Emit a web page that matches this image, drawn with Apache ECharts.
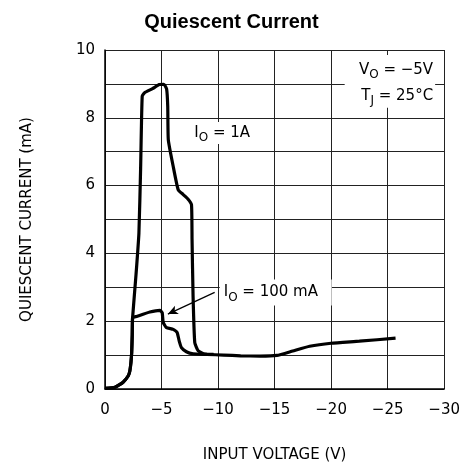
<!DOCTYPE html>
<html><head><meta charset="utf-8">
<script src="https://cdn.jsdelivr.net/npm/echarts@6/dist/echarts.min.js"></script>
<style>html,body{margin:0;padding:0;background:#fff}#c{width:463px;height:469px}</style>
</head><body><div id="c"></div>
<script>
const chartTitle = 'Quiescent Current';
const xAxisName = 'INPUT VOLTAGE (V)';
const yAxisName = 'QUIESCENT CURRENT (mA)';
const xMin = -30, xMax = 0, xStep = 5;
const yMin = 0, yMax = 10, yStep = 1;

// I_O = 1A curve  [input voltage (V), quiescent current (mA)]
const curve1A = [
  [0,0.02],[-0.88,0.05],[-1.6,0.2],[-2.06,0.39],[-2.2,0.54],[-2.3,0.8],[-2.36,1.08],[-2.41,1.6],[-2.44,2.1],
  [-2.75,3.4],[-3.0,4.6],[-3.15,6.5],[-3.29,8.63],[-3.5,8.74],[-4.2,8.86],[-4.8,8.98],[-5.2,8.99],[-5.45,8.85],
  [-5.55,8.33],[-5.6,7.35],[-6.03,6.57],[-6.47,5.88],[-6.9,5.74],[-7.35,5.6],[-7.65,5.44],[-7.7,4.41],
  [-7.79,2.74],[-7.94,1.37],[-8.24,1.13],[-8.82,1.03],[-9.6,1.02]
];
// I_O = 100 mA curve
const curve100mA = [
  [0,0.02],[-0.88,0.05],[-1.6,0.2],[-2.06,0.39],[-2.2,0.54],[-2.3,0.8],[-2.36,1.08],[-2.41,1.6],[-2.44,2.1],
  [-2.79,2.14],[-3.97,2.27],[-4.85,2.32],[-5.06,2.25],[-5.15,1.96],[-5.44,1.81],[-6.03,1.76],[-6.38,1.67],
  [-6.56,1.42],[-6.76,1.22],[-7.2,1.1],[-7.79,1.04],[-9.0,1.02],[-10.5,1.0],[-12.0,0.98],[-13.7,0.97],
  [-15.2,0.99],[-16.6,1.12],[-18.1,1.26],[-20.0,1.35],[-22.5,1.41],[-25.7,1.5]
];
// annotation anchors (data coords)
const label1A = {x:-7.9, y:7.55, text:'1A'};
const label100 = {x:-10.5, y:2.85, text:'100 mA'};
const arrowFrom = [-9.7, 2.85], arrowTo = [-5.56, 2.21];
const condBox = {x0:-21.2, x1:-29.2, y0:9.85, y1:8.3};

const chart = echarts.init(document.getElementById('c'), null, {renderer:'canvas'});
const F = 'DejaVu Sans';
const gridColor = '#222';
chart.setOption({
  animation:false,
  backgroundColor:'#fff',
  title:{text:chartTitle,left:'center',top:7,textStyle:{fontFamily:'Liberation Sans',fontWeight:'bold',fontSize:20,color:'#000'}},
  grid:{left:105,right:18,top:50,bottom:80},
  xAxis:{type:'value',min:xMin,max:xMax,interval:xStep,inverse:true,
    name:xAxisName,nameLocation:'middle',nameGap:59,
    nameTextStyle:{fontFamily:F,fontSize:15,color:'#000'},
    axisLine:{show:true,lineStyle:{color:'#000',width:1.5}},
    axisTick:{show:false},
    axisLabel:{margin:14,fontFamily:F,fontSize:15,color:'#000',
      formatter:v=> v===0?'0':'\u2212'+Math.abs(v)},
    splitLine:{show:true,lineStyle:{color:gridColor,width:1}}},
  yAxis:{type:'value',min:yMin,max:yMax,interval:yStep,
    name:yAxisName,nameLocation:'middle',nameGap:70,nameRotate:90,
    nameTextStyle:{fontFamily:F,fontSize:15,color:'#000'},
    axisLine:{show:true,lineStyle:{color:'#000',width:1.5}},
    axisTick:{show:false},
    axisLabel:{margin:10,fontFamily:F,fontSize:15,color:'#000',
      formatter:v=> (v%2===0)?String(v):''},
    splitLine:{show:true,lineStyle:{color:gridColor,width:1}}},
  series:[
    {name:'I_O = 1A',type:'line',data:curve1A,showSymbol:false,smooth:0.15,
     lineStyle:{color:'#000',width:3.2},z:5},
    {name:'I_O = 100 mA',type:'line',data:curve100mA,showSymbol:false,smooth:0.15,
     lineStyle:{color:'#000',width:3.2},z:5,
     markLine:{silent:true,symbol:['none','arrow'],symbolSize:[7,10],
       lineStyle:{color:'#000',width:1.2,type:'solid'},label:{show:false},
       data:[[{coord:arrowFrom},{coord:arrowTo}]]}}
  ]
});

function px(p){return chart.convertToPixel({gridIndex:0},p);}
const rich = {
  a:{fontFamily:F,fontSize:15,color:'#000'},
  s:{fontFamily:F,fontSize:12,color:'#000',padding:[10,0,0,0]}
};
const b0 = px([condBox.x0,condBox.y0]), b1 = px([condBox.x1,condBox.y1]);
const l1 = px([label1A.x,label1A.y]);
const l2 = px([label100.x,label100.y]);
chart.setOption({graphic:[
  {type:'rect',z:1,shape:{x:b0[0],y:b0[1],width:b1[0]-b0[0],height:b1[1]-b0[1]},style:{fill:'#fff'}},
  {type:'text',z:10,x:b1[0]-2,y:b0[1]+2,style:{text:'{a|V}{s|O}{a| = \u22125V}\n{a|T}{s|J}{a| = 25\u00B0C}',rich:rich,align:'right',verticalAlign:'top',lineHeight:26}},
  {type:'rect',z:1,shape:{x:l1[0]-4,y:l1[1]-11,width:66,height:22},style:{fill:'#fff'}},
  {type:'text',z:10,x:l1[0],y:l1[1],style:{text:'{a|I}{s|O}{a| = '+label1A.text+'}',rich:rich,align:'left',verticalAlign:'middle'}},
  {type:'rect',z:1,shape:{x:l2[0]-4,y:l2[1]-13,width:112,height:26},style:{fill:'#fff'}},
  {type:'text',z:10,x:l2[0],y:l2[1],style:{text:'{a|I}{s|O}{a| = '+label100.text+'}',rich:rich,align:'left',verticalAlign:'middle'}}
]});
</script></body></html>
